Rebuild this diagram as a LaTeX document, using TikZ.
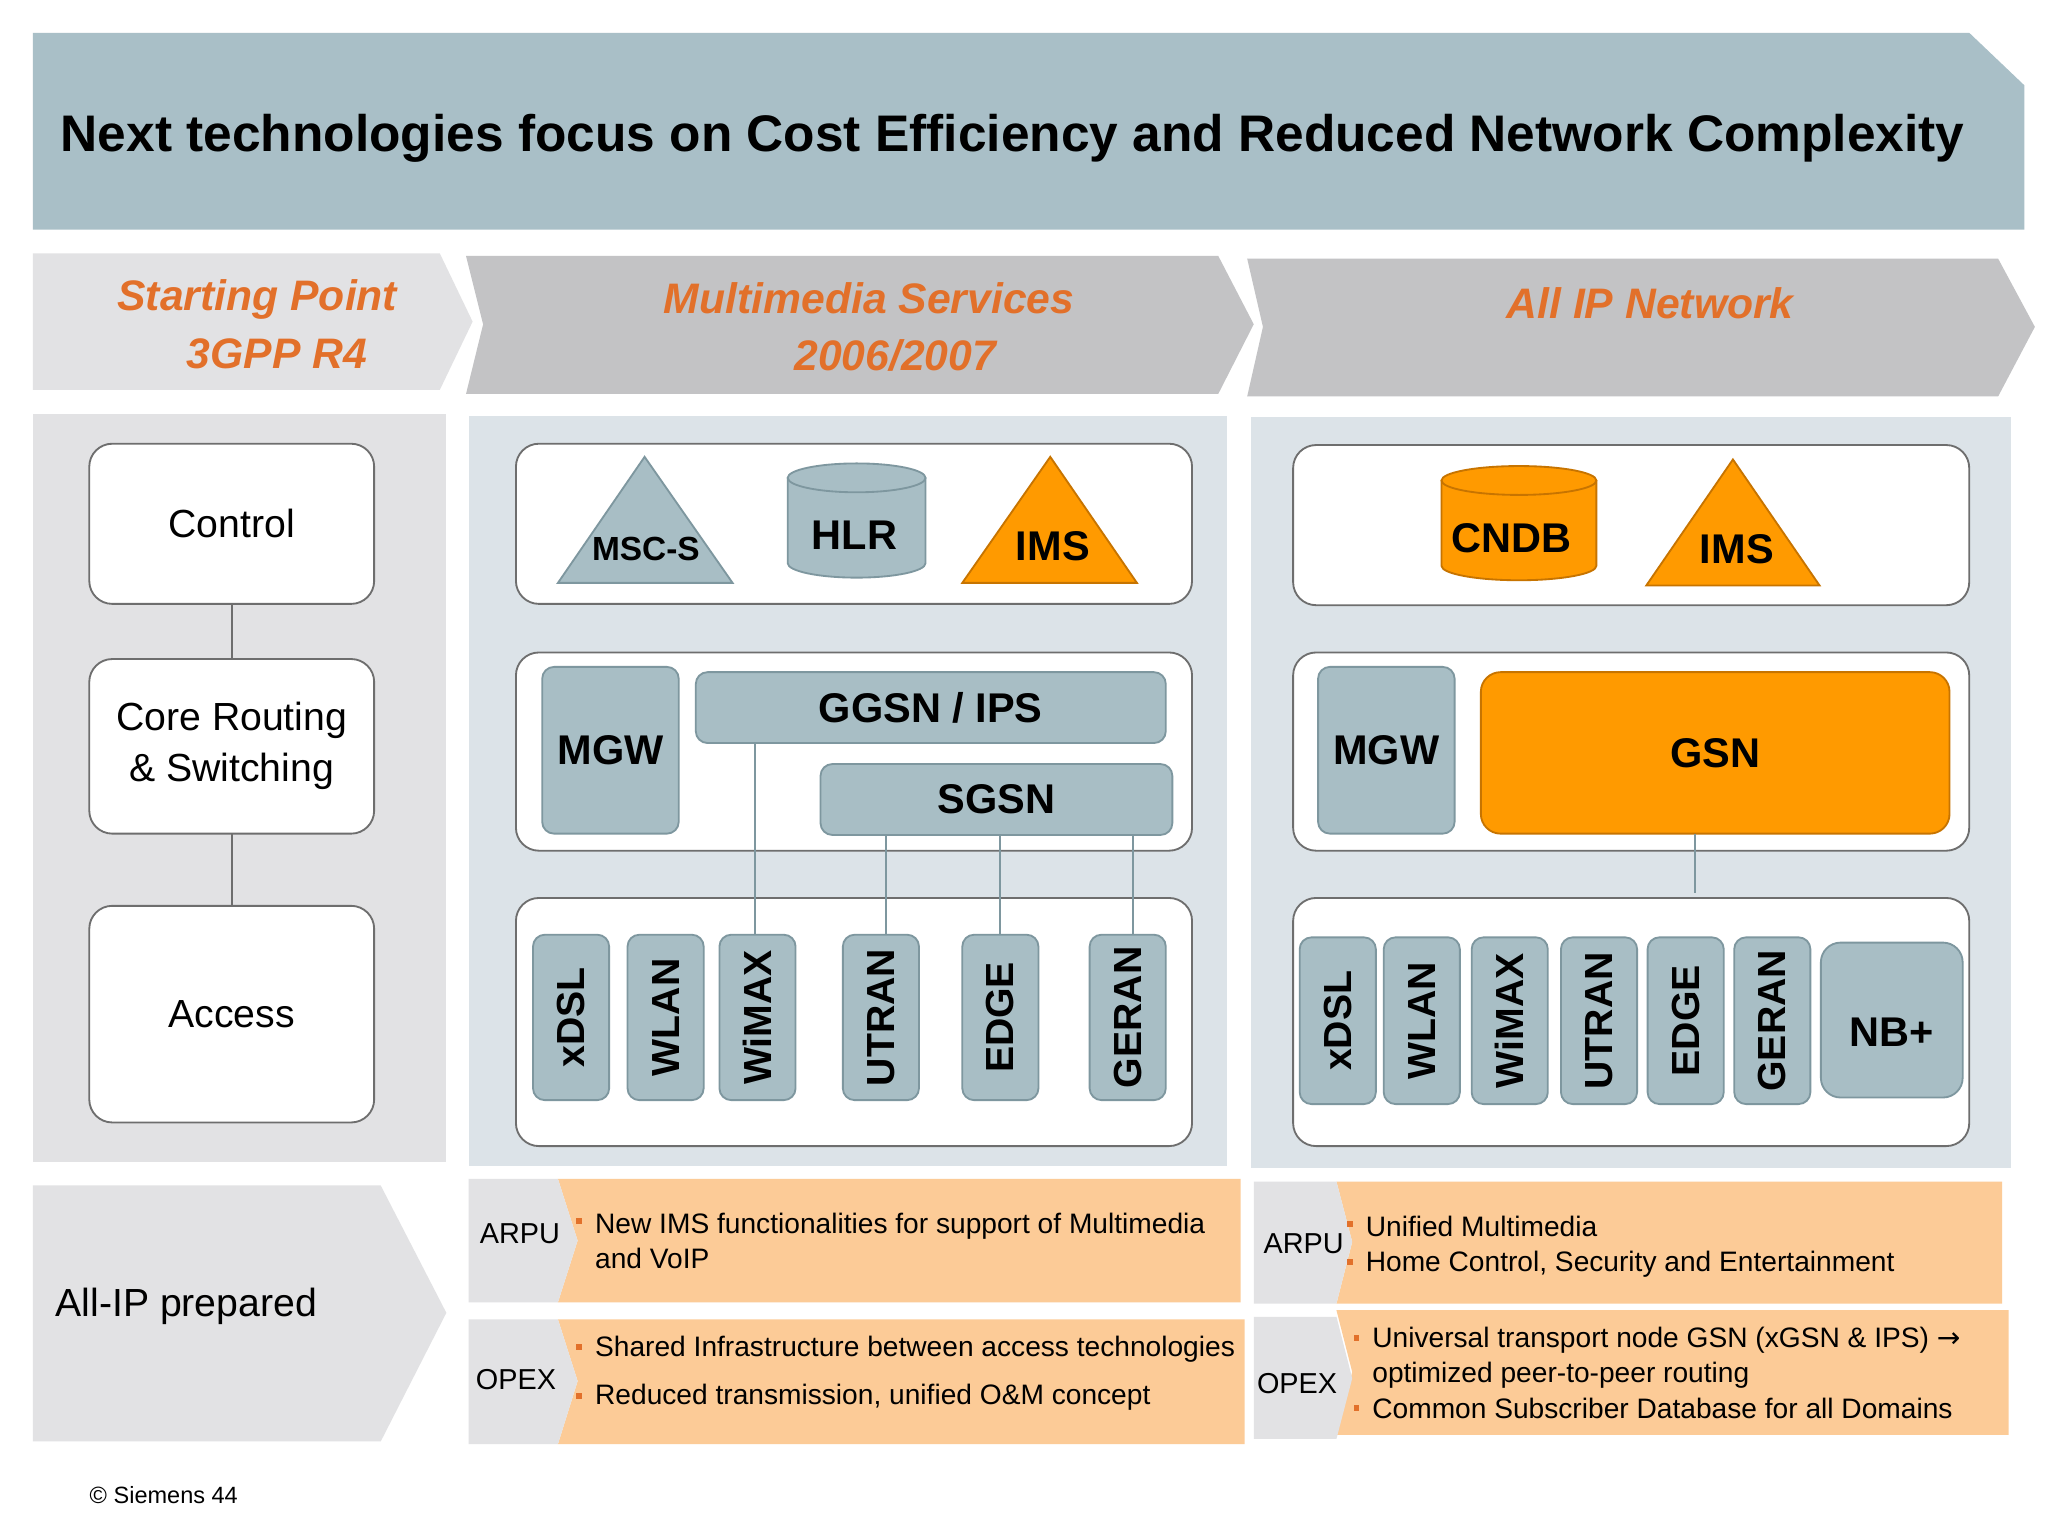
\documentclass[tikz,border=0pt]{standalone}
\usepackage{fontspec}
\setmainfont{Liberation Sans}
\definecolor{banner}{HTML}{A9BFC7}
\definecolor{gfill}{HTML}{A8BEC5}
\definecolor{gline}{HTML}{7E979F}
\definecolor{ofill}{HTML}{FF9A00}
\definecolor{oline}{HTML}{C77400}
\definecolor{otext}{HTML}{E2702A}
\definecolor{peach}{HTML}{FCCB97}
\definecolor{lgray}{HTML}{E2E2E4}
\definecolor{mgray}{HTML}{C3C3C5}
\definecolor{pblue}{HTML}{DCE3E8}
\definecolor{wline}{HTML}{6E6E6E}
\newcommand\bx[6]{\pgfmathsetmacro\bw{(#5-#3)*0.02}\pgfmathsetmacro\bh{(#6-#4)*0.02}%
\node[#2,minimum width=\bw cm,minimum height=\bh cm] (#1) at ({(#3+#5)/2},{(#4+#6)/2})}
\newcommand\fzl[2]{\fontsize{#2}{#1\dimexpr#2\relax}\selectfont}
\newcommand\fz[1]{\fzl{1.2}{#1}}
\tikzset{
 wbox/.style={draw=wline,fill=white,rounded corners=0.35cm,inner sep=0pt,outer sep=0pt,line width=0.8pt},
 gbox/.style={draw=gline,fill=gfill,rounded corners=0.18cm,inner sep=0pt,outer sep=0pt,line width=0.8pt,font=\fz{18pt}\bfseries},
 obox/.style={draw=oline,fill=ofill,rounded corners=0.3cm,inner sep=0pt,outer sep=0pt,line width=0.8pt,font=\fz{18pt}\bfseries},
 vbox/.style={gbox,font=\fz{17pt}\bfseries},
 htext/.style={text=otext,font=\fzl{1.35}{18.5pt}\bfseries\itshape,align=center},
 btxt/.style={anchor=west,font=\fzl{1.25}{12.2pt},inner sep=0pt,align=left},
 lbl/.style={font=\fz{12.5pt},inner sep=0pt},
 conn/.style={draw=gline,line width=0.8pt},
 lconn/.style={draw=wline,line width=0.8pt},
}
\newcommand\bul[2]{\fill[otext] (#1-2,#2-2) rectangle (#1+2.5,#2+2.5);}
\begin{document}
\begin{tikzpicture}[x=0.02cm,y=-0.02cm]
\useasboundingbox (0,0) rectangle (1560,1168);
\fill[white] (0,0) rectangle (1560,1168);
% title
\fill[banner] (25,25) -- (1500,25) -- (1542,65) -- (1542,175) -- (25,175) -- cycle;
\node[anchor=west,font=\fz{22.3pt}\bfseries,inner sep=0pt] (title) at (46,105) {Next technologies focus on Cost Efficiency and Reduced Network Complexity};
% headers
\fill[lgray] (25,193) -- (335,193) -- (360,245) -- (335,297) -- (25,297) -- cycle;
\node[htext] (h1) at (196,247) {Starting Point\\\hspace*{0.6cm}3GPP R4};
\fill[mgray] (355,195) -- (928,195) -- (955,247) -- (928,300) -- (355,300) -- (368,247) -- cycle;
\node[htext] (h2) at (662,249) {Multimedia Services\\\hspace*{0.8cm}2006/2007};
\fill[mgray] (950,197) -- (1522,197) -- (1550,249) -- (1522,302) -- (950,302) -- (962,249) -- cycle;
\node[htext] (h3) at (1257,231) {All IP Network};
% panels
\fill[lgray] (25,315) rectangle (340,885);
\fill[pblue] (357,317) rectangle (935,888);
\fill[pblue] (953,318) rectangle (1532,890);
% left column
\bx{ctrl}{wbox,font=\fz{17pt}}{68}{338}{285}{460}{Control};
\bx{core}{wbox,font=\fzl{1.3}{17pt},align=center}{68}{502}{285}{635}{Core Routing\\\& Switching};
\bx{acc}{wbox,font=\fz{17pt}}{68}{690}{285}{855}{Access};
\draw[lconn] (ctrl.south) -- (core.north);
\draw[lconn] (core.south) -- (acc.north);
% middle column
\bx{m1}{wbox}{393}{338}{908}{460}{};
\filldraw[fill=gfill,draw=gline,line width=0.8pt] (425,444) -- (491,348) -- (558,444) -- cycle;
\node[font=\fz{14.5pt}\bfseries] (mscs) at (492,418) {MSC-S};
\filldraw[fill=gfill,draw=gline,line width=0.8pt] (600,364) -- (600,429) arc[start angle=180,end angle=0,x radius=52.5,y radius=11] -- (705,364);
\filldraw[fill=gfill,draw=gline,line width=0.8pt] (652.5,364) ellipse[x radius=52.5,y radius=11];
\node[font=\fz{18pt}\bfseries] (hlr) at (651,408) {HLR};
\filldraw[fill=ofill,draw=oline,line width=0.8pt] (733,444) -- (800,348) -- (866,444) -- cycle;
\node[font=\fz{18pt}\bfseries] (ims1) at (802,416) {IMS};
\bx{m2}{wbox}{393}{497}{908}{648}{};
\bx{mgw1}{gbox}{413}{508}{517}{635}{MGW};
\bx{ggsn}{gbox}{530}{512}{888}{566}{GGSN / IPS};
\bx{sgsn}{gbox}{625}{582}{893}{636}{SGSN};
\bx{m3}{wbox}{393}{684}{908}{873}{};
\bx{xdsl1}{vbox}{406}{712}{464}{838}{\rotatebox{90}{xDSL}};
\bx{wlan1}{vbox}{478}{712}{536}{838}{\rotatebox{90}{WLAN}};
\bx{wimax1}{vbox}{548}{712}{606}{838}{\rotatebox{90}{WiMAX}};
\bx{utran1}{vbox}{642}{712}{700}{838}{\rotatebox{90}{UTRAN}};
\bx{edge1}{vbox}{733}{712}{791}{838}{\rotatebox{90}{EDGE}};
\bx{geran1}{vbox}{830}{712}{888}{838}{\rotatebox{90}{GERAN}};
\draw[conn] ([xshift=-0.04cm]wimax1.north) -- ([xshift=-0.04cm]wimax1.north |- ggsn.south);
\draw[conn] ([xshift=0.08cm]utran1.north) -- ([xshift=0.08cm]utran1.north |- sgsn.south);
\draw[conn] (edge1.north) -- (edge1.north |- sgsn.south);
\draw[conn] ([xshift=0.08cm]geran1.north) -- ([xshift=0.08cm]geran1.north |- sgsn.south);
% right column
\bx{r1}{wbox}{985}{339}{1500}{461}{};
\filldraw[fill=ofill,draw=oline,line width=0.8pt] (1098,366) -- (1098,431) arc[start angle=180,end angle=0,x radius=59,y radius=11] -- (1216,366);
\filldraw[fill=ofill,draw=oline,line width=0.8pt] (1157,366) ellipse[x radius=59,y radius=11];
\node[font=\fz{18pt}\bfseries] (cndb) at (1151,410) {CNDB};
\filldraw[fill=ofill,draw=oline,line width=0.8pt] (1254,446) -- (1320,350) -- (1386,446) -- cycle;
\node[font=\fz{18pt}\bfseries] (ims2) at (1323,418) {IMS};
\bx{r2}{wbox}{985}{497}{1500}{648}{};
\bx{mgw2}{gbox}{1004}{508}{1108}{635}{MGW};
\bx{gsn}{obox}{1128}{512}{1485}{635}{GSN};
\bx{r3}{wbox}{985}{684}{1500}{873}{};
\draw[conn] (gsn.south -| 1291,0) -- (1291,680);
\bx{xdsl2}{vbox}{990}{714}{1048}{841}{\rotatebox{90}{xDSL}};
\bx{wlan2}{vbox}{1054}{714}{1112}{841}{\rotatebox{90}{WLAN}};
\bx{wimax2}{vbox}{1121}{714}{1179}{841}{\rotatebox{90}{WiMAX}};
\bx{utran2}{vbox}{1189}{714}{1247}{841}{\rotatebox{90}{UTRAN}};
\bx{edge2}{vbox}{1255}{714}{1313}{841}{\rotatebox{90}{EDGE}};
\bx{geran2}{vbox}{1321}{714}{1379}{841}{\rotatebox{90}{GERAN}};
\bx{nb}{gbox,rounded corners=0.3cm}{1387}{718}{1495}{836}{\raisebox{-0.8cm}{NB+}};
% bottom
\fill[lgray] (25,903) -- (290,903) -- (340,1000) -- (290,1098) -- (25,1098) -- cycle;
\node[anchor=west,font=\fz{17pt},inner sep=0pt] (allip) at (42,995) {All-IP prepared};
% middle bottom
\fill[peach] (425,898) -- (945,898) -- (945,992) -- (425,992) -- (440,945) -- cycle;
\fill[lgray] (357,898) -- (425,898) -- (440,945) -- (425,992) -- (357,992) -- cycle;
\node[lbl] (arpu1) at (396,940) {ARPU};
\fill[peach] (425,1005) -- (948,1005) -- (948,1100) -- (425,1100) -- (440,1052) -- cycle;
\fill[lgray] (357,1005) -- (425,1005) -- (440,1052) -- (425,1100) -- (357,1100) -- cycle;
\node[lbl] (opex1) at (393,1051) {OPEX};
\bul{441}{930}
\node[btxt] (t1) at (453,945) {New IMS functionalities for support of Multimedia\\and VoIP};
\bul{441}{1026}
\node[btxt] (t2) at (453,1028) {Shared Infrastructure between access technologies};
\bul{441}{1063}
\node[btxt] (t3) at (453,1064) {Reduced transmission, unified O\&M concept};
% right bottom
\fill[peach] (1018,900) -- (1525,900) -- (1525,993) -- (1018,993) -- (1030,946) -- cycle;
\fill[lgray] (955,900) -- (1018,900) -- (1030,946) -- (1018,993) -- (955,993) -- cycle;
\node[lbl] (arpu2) at (993,947) {ARPU};
\fill[peach] (1018,998) -- (1530,998) -- (1530,1093) -- (1018,1093) -- (1030,1045) -- cycle;
\fill[lgray] (955,1003) -- (1018,1003) -- (1030,1050) -- (1018,1096) -- (955,1096) -- cycle;
\node[lbl] (opex2) at (988,1054) {OPEX};
\bul{1028}{932}
\node[btxt] (t4) at (1040,934) {Unified Multimedia};
\bul{1028}{961}
\node[btxt] (t5) at (1040,963) {Home Control, Security and Entertainment};
\bul{1033}{1019}
\node[btxt] (t6) at (1045,1034) {Universal transport node GSN (xGSN \& IPS) {\fontspec{DejaVu Sans}→}\\optimized peer-to-peer routing};
\bul{1033}{1072}
\node[btxt] (t7) at (1045,1073) {Common Subscriber Database for all Domains};
\node[anchor=west,font=\fz{10.2pt},inner sep=0pt] (foot) at (68,1139) {© Siemens 44};
\end{tikzpicture}
\end{document}
